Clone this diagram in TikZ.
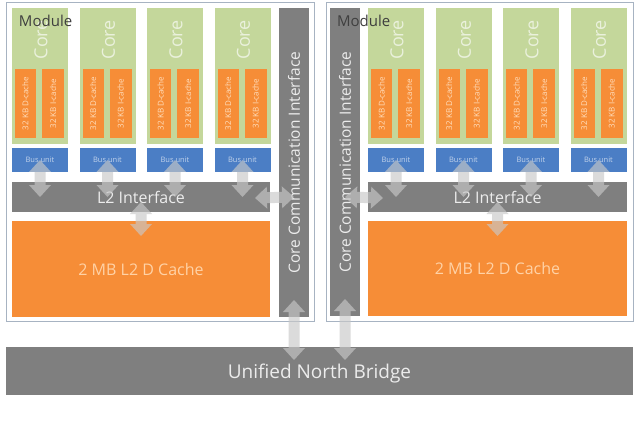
\documentclass[tikz,border=0pt]{standalone}
\usepackage{fontspec}
\setmainfont{Open Sans}
\usetikzlibrary{calc,arrows.meta,positioning}
\definecolor{kerngruen}{HTML}{C4D79B}
\definecolor{cacheorange}{HTML}{F68D37}
\definecolor{busblau}{HTML}{4B7EC5}
\definecolor{balkengrau}{HTML}{7F7F7F}
\definecolor{rahmen}{HTML}{A7B3C2}
\definecolor{pfeilgrau}{HTML}{C8C8C8}
\definecolor{pag}{HTML}{3F3F3F}

\begin{document}
\begin{tikzpicture}[
		x=1pt, y=-1pt,					% Pixelraster, y nach unten
		inner sep=0pt,					% kein Abstand zwischen Text und Rahmen
		outer sep=0pt,
		block/.style={rectangle, anchor=north west},
		kern/.style={block, fill=kerngruen, minimum width=56pt, minimum height=136pt},
		cache/.style={block, fill=cacheorange, minimum height=69pt, text=orange!25!white,
			font=\fontsize{8}{9}\selectfont},
		bus/.style={rectangle, anchor=north, fill=busblau, minimum width=56pt, minimum height=24pt,
			text=busblau!35!white, font=\fontsize{7.5}{9}\selectfont},
		balken/.style={block, fill=balkengrau, text=white!85!balkengrau},
		l2cache/.style={block, fill=cacheorange, text=orange!35!white, font=\fontsize{16}{18}\selectfont},
		modul/.style={block, draw=rahmen, line width=1pt, fill=white},
		pfeil/.style={draw=pfeilgrau, line width=11pt,
			arrows={Triangle[width=22pt,length=12pt,line width=0pt]-Triangle[width=22pt,length=12pt,line width=0pt]}}
	]
	\useasboundingbox[fill=white] (0,0) rectangle (640,425);

	% Module
	\node[modul, minimum width=308pt, minimum height=318pt] (modul1) at (6,3) {};
	\node[modul, minimum width=307pt, minimum height=318pt] (modul2) at (326,3) {};

	% Kerne mit Caches und Bus unit
	\foreach \m/\xnull in {1/12, 2/368} {
		\foreach \i [evaluate=\i as \x using \xnull+(\i-1)*67.5] in {1,...,4} {
			\node[kern] (kern\m\i) at (\x,8) {};
			\node[anchor=north, text=kerngruen!35!white, font=\fontsize{18}{20}\selectfont]
				(kerntext\m\i) at ($(kern\m\i.north)+(1,12)$) {\rotatebox{90}{Core}};
			\node[cache, minimum width=21pt] (dcache\m\i) at ($(kern\m\i.north west)+(3,61)$)
				{\rotatebox{90}{32 KB D-cache}};
			\node[cache, minimum width=22pt] (icache\m\i) at ($(kern\m\i.north west)+(30,61)$)
				{\rotatebox{90}{32 KB I-cache}};
			\node[bus] (bus\m\i) at ($(kern\m\i.south)+(0,4)$) {Bus unit};
		}
	}

	% L2 Interface, L2 Cache und Core Communication Interface
	\node[balken, minimum width=258pt, minimum height=30pt, font=\fontsize{16}{18}\selectfont]
		(l2if1) at (12,182) {L2 Interface};
	\node[balken, minimum width=259pt, minimum height=30pt, font=\fontsize{16}{18}\selectfont]
		(l2if2) at (368,182) {L2 Interface};
	\node[l2cache, minimum width=258pt, minimum height=96pt] (l2cache1) at (12,221) {2 MB L2 D Cache};
	\node[l2cache, minimum width=259pt, minimum height=95pt] (l2cache2) at (368,221) {2 MB L2 D Cache};
	\node[balken, minimum width=30pt, minimum height=309pt, font=\fontsize{15.5}{18}\selectfont]
		(cci1) at (279,8) {\rotatebox{90}{Core Communication Interface}};
	\node[balken, minimum width=30pt, minimum height=308pt, font=\fontsize{15.5}{18}\selectfont]
		(cci2) at (330,8) {\rotatebox{90}{Core Communication Interface}};

	% Beschriftung der Module
	\node[anchor=west, text=pag, font=\fontsize{15}{17}\selectfont] (modtext1) at (19,21) {Module};
	\node[anchor=west, text=pag, font=\fontsize{15}{17}\selectfont] (modtext2) at (337,21) {Module};

	% Unified North Bridge
	\node[balken, minimum width=627pt, minimum height=48pt, text depth=0pt, font=\fontsize{19}{22}\selectfont]
		(unb) at (6,347) {Unified North Bridge};

	% Pfeile
	\begin{scope}[transparency group, opacity=.65]
		\foreach \m in {1,2} {
			\foreach \i in {1,...,4}
				\draw[pfeil] (bus\m\i.center) -- (bus\m\i.center |- l2if\m.center);
			\draw[pfeil] ([yshift=-5pt]l2if\m.center) -- ($(l2if\m.center |- l2cache\m.north)+(0,15)$);
			\draw[pfeil] ($(cci\m.south)+(0,-17)$) -- ($(cci\m.south |- unb.north)+(0,13)$);
		}
		\draw[pfeil] ($(l2if1.east)+(-15,1)$) -- (cci1.center |- l2if1.center);
		\draw[pfeil] ($(l2if2.west)+(15,1)$) -- (cci2.center |- l2if2.center);
	\end{scope}

\end{tikzpicture}
\end{document}
